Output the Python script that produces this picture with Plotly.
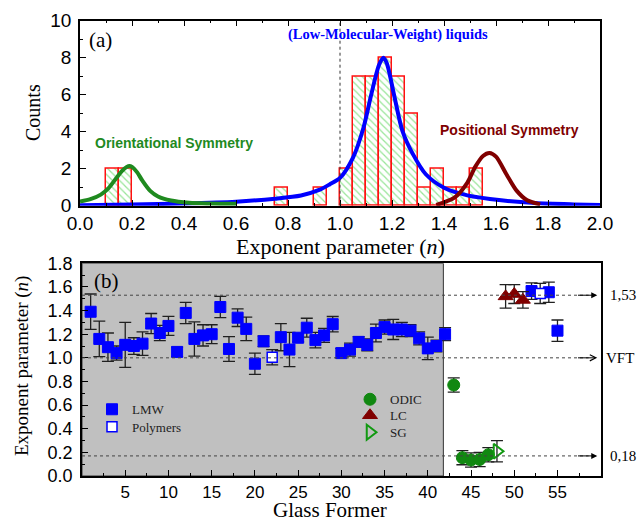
import plotly.graph_objects as go

# ---------------- Panel (a): histogram of exponent n ----------------
bin_left = [0.10, 0.15, 0.75, 0.90, 1.00, 1.05, 1.10, 1.15, 1.20, 1.25, 1.30, 1.35, 1.40, 1.45, 1.50]
counts = [2, 2, 1, 1, 2, 7, 7, 8, 7, 5, 1, 2, 1, 1, 2]
bin_width = 0.05

# fitted curves
orient_x = [0.00, 0.04, 0.08, 0.11, 0.14, 0.16, 0.18, 0.19, 0.20, 0.22, 0.24, 0.27, 0.30, 0.35, 0.42, 0.50, 0.60]
orient_y = [0.22, 0.35, 0.60, 0.95, 1.50, 1.85, 2.10, 2.15, 2.10, 1.80, 1.35, 0.80, 0.50, 0.28, 0.16, 0.12, 0.10]

lmw_fit_x = [0.0, 0.2, 0.4, 0.6, 0.75, 0.85, 0.92, 0.96, 1.0, 1.05, 1.09, 1.12, 1.15, 1.167,
             1.18, 1.21, 1.24, 1.28, 1.33, 1.40, 1.49, 1.62, 1.75, 1.9, 2.0]
lmw_fit_y = [0.03, 0.06, 0.12, 0.22, 0.38, 0.55, 0.85, 1.15, 1.5, 2.6, 4.2, 6.0, 7.6, 8.0,
             7.7, 5.85, 4.05, 2.8, 1.7, 0.97, 0.56, 0.29, 0.14, 0.07, 0.04]

pos_x = [1.37, 1.44, 1.49, 1.52, 1.55, 1.575, 1.60, 1.64, 1.68, 1.72, 1.77]
pos_y = [0.04, 0.43, 1.25, 2.10, 2.69, 2.85, 2.65, 1.70, 0.80, 0.29, 0.07]

# ---------------- Panel (b): exponent per glass former ----------------
lmw_x = [1, 2, 3, 4, 5, 6, 7, 8, 9, 10, 11, 12, 13, 14, 15, 16, 17, 18, 19, 20, 21,
         23, 24, 25, 26, 27, 28, 29, 30, 31, 32, 33, 34, 35, 36, 37, 38, 39, 40, 41, 42,
         52, 54, 55]
lmw_n = [1.39, 1.16, 1.09, 1.04, 1.11, 1.10, 1.12, 1.29, 1.21, 1.27, 1.05, 1.38, 1.16, 1.19, 1.20,
         1.43, 1.075, 1.34, 1.245, 0.95, 1.14,
         1.175, 1.07, 1.17, 1.255, 1.15, 1.19, 1.285, 1.04, 1.07, 1.135, 1.11, 1.21, 1.26, 1.24,
         1.24, 1.23, 1.165, 1.08, 1.10, 1.20,
         1.565, 1.555, 1.23]
lmw_err = [0.15, 0.15, 0.12, 0.06, 0.19, 0.07, 0.10, 0.085, 0.065, 0.08, 0.04, 0.09, 0.145, 0.09, 0.08,
           0.09, 0.105, 0.075, 0.10, 0.09, 0.045,
           0.115, 0.145, 0.035, 0.08, 0.065, 0.06, 0.065, 0.04, 0.055, 0.045, 0.05, 0.075, 0.06, 0.085,
           0.06, 0.05, 0.055, 0.095, 0.05, 0.055,
           0.07, 0.085, 0.09]

poly_x = [22, 53]
poly_n = [1.005, 1.545]
poly_err = [0.065, 0.085]

odic_x = [43, 44, 45, 46, 47]
odic_n = [0.77, 0.155, 0.135, 0.14, 0.18]
odic_err = [0.06, 0.06, 0.06, 0.06, 0.06]

lc_x = [49, 50, 51]
lc_n = [1.52, 1.54, 1.49]
lc_err = [0.10, 0.08, 0.07]

sg_x = [48]
sg_n = [0.21]
sg_err = [0.09]

ref_levels = [1.53, 1.0, 0.17]
ref_labels = ["1,53", "VFT", "0,18"]
lmw_region_end = 41.8

SERIF = "Liberation Serif"
SANS = "Liberation Sans"
BLUE = "#0000ff"
GREEN = "#1f8a1f"
DARKRED = "#800000"

fig = go.Figure()

# histogram bars
fig.add_trace(go.Bar(
    x=bin_left, y=counts, width=bin_width, offset=0,
    marker=dict(color="white", line=dict(color="#ff1010", width=1.5),
                pattern=dict(shape="\\", fgcolor="#33cc33", bgcolor="white", size=5, solidity=0.25)),
    xaxis="x", yaxis="y", showlegend=False, hoverinfo="skip"))

fig.add_trace(go.Scatter(x=lmw_fit_x, y=lmw_fit_y, mode="lines",
                         line=dict(color=BLUE, width=4, shape="spline", smoothing=0.8),
                         xaxis="x", yaxis="y", showlegend=False))
fig.add_trace(go.Scatter(x=orient_x, y=orient_y, mode="lines",
                         line=dict(color=GREEN, width=4, shape="spline", smoothing=0.8),
                         xaxis="x", yaxis="y", showlegend=False))
fig.add_trace(go.Scatter(x=pos_x, y=pos_y, mode="lines",
                         line=dict(color=DARKRED, width=4, shape="spline", smoothing=0.8),
                         xaxis="x", yaxis="y", showlegend=False))

err_style = dict(type="data", visible=True, color="#202020", thickness=1.3, width=6)

def eb(vals):
    d = dict(err_style)
    d["array"] = vals
    return d

fig.add_trace(go.Scatter(x=lmw_x, y=lmw_n, mode="markers", name="LMW", error_y=eb(lmw_err),
                         marker=dict(symbol="square", size=11, color=BLUE, line=dict(color=BLUE, width=1)),
                         xaxis="x2", yaxis="y2", legend="legend"))
fig.add_trace(go.Scatter(x=poly_x, y=poly_n, mode="markers", name="Polymers", error_y=eb(poly_err),
                         marker=dict(symbol="square", size=10, color="white", line=dict(color=BLUE, width=1.5)),
                         xaxis="x2", yaxis="y2", legend="legend2"))
fig.add_trace(go.Scatter(x=odic_x, y=odic_n, mode="markers", name="ODIC", error_y=eb(odic_err),
                         marker=dict(symbol="circle", size=12, color="#118811", line=dict(color="#118811", width=1)),
                         xaxis="x2", yaxis="y2", legend="legend3"))
fig.add_trace(go.Scatter(x=lc_x, y=lc_n, mode="markers", name="LC", error_y=eb(lc_err),
                         marker=dict(symbol="triangle-up", size=13, color=DARKRED, line=dict(color=DARKRED, width=1)),
                         xaxis="x2", yaxis="y2", legend="legend4"))
fig.add_trace(go.Scatter(x=sg_x, y=sg_n, mode="markers", name="SG", error_y=eb(sg_err),
                         marker=dict(symbol="triangle-right-open", size=13, color="#119911", line=dict(color="#119911", width=2)),
                         xaxis="x2", yaxis="y2", legend="legend5"))

shapes = [
    dict(type="line", xref="x", yref="y", x0=1.0, x1=1.0, y0=0, y1=10,
         line=dict(color="#333333", width=1, dash="dot")),
    dict(type="rect", xref="x2", yref="y2", x0=0, x1=lmw_region_end, y0=0, y1=1.8,
         fillcolor="#c0c0c0", line=dict(color="#333333", width=1), layer="below"),
]
for lv in ref_levels:
    shapes.append(dict(type="line", xref="x2", yref="y2", x0=0, x1=58.6, y0=lv, y1=lv,
                       line=dict(color="#444444", width=1, dash="dot")))

def ann(**kw):
    kw.setdefault("showarrow", False)
    kw.setdefault("xanchor", "center")
    kw.setdefault("yanchor", "middle")
    return kw

annotations = [
    ann(text="(a)", x=0.027, y=8.97, xref="x", yref="y", xanchor="left",
        font=dict(family=SERIF, size=21, color="black")),
    ann(text="<b>(Low-Molecular-Weight) liquids</b>", x=1.185, y=9.24, xref="x", yref="y",
        font=dict(family=SERIF, size=14.5, color=BLUE)),
    ann(text="<b>Orientational Symmetry</b>", x=0.36, y=3.4, xref="x", yref="y",
        font=dict(family=SANS, size=14, color=GREEN)),
    ann(text="<b>Positional Symmetry</b>", x=1.652, y=4.1, xref="x", yref="y",
        font=dict(family=SANS, size=14, color=DARKRED)),
    ann(text="Counts", x=33 / 638, y=(520 - 113) / 520, xref="paper", yref="paper", textangle=-90,
        font=dict(family=SERIF, size=20, color="black")),
    ann(text="Exponent parameter (<i>n</i>)", x=340 / 638, y=(520 - 246) / 520, xref="paper", yref="paper",
        font=dict(family=SERIF, size=22, color="black")),
    ann(text="(b)", x=1.19, y=1.65, xref="x2", yref="y2", xanchor="left",
        font=dict(family=SERIF, size=21, color="black")),
    ann(text="Exponent parameter (<i>n</i>)", x=22 / 638, y=(520 - 366) / 520, xref="paper", yref="paper",
        textangle=-90, font=dict(family=SERIF, size=19, color="black")),
    ann(text="Glass Former", x=330 / 638, y=(520 - 510) / 520, xref="paper", yref="paper",
        font=dict(family=SERIF, size=21, color="black")),
]
arrow_heads = [2, 5, 2]
label_left_px = [608, 604, 608]
for lv, lab, ah, lx in zip(ref_levels, ref_labels, arrow_heads, label_left_px):
    annotations.append(dict(text="", x=59.6, y=lv, ax=57.2, ay=lv, xref="x2", yref="y2",
                            axref="x2", ayref="y2", showarrow=True, arrowhead=ah, arrowsize=1.2,
                            arrowwidth=1, arrowcolor="black"))
    annotations.append(ann(text=lab, x=lx / 638, y=lv, xref="paper", yref="y2", xanchor="left",
                           font=dict(family=SERIF, size=15, color="black")))

axis_common = dict(showline=True, linecolor="black", linewidth=1.5, ticks="inside", ticklen=6,
                   tickcolor="black", tickwidth=1.2, showgrid=False, zeroline=False, automargin=False)

def tf(size):
    return dict(family=SANS, size=size, color="black")

def leg(xpx, ypx):
    return dict(x=xpx / 638, y=(520 - ypx) / 520, xanchor="left", yanchor="middle",
                bgcolor="rgba(0,0,0,0)", borderwidth=0,
                font=dict(family=SERIF, size=13, color="#222222"))

fig.update_layout(
    width=638, height=520, margin=dict(l=0, r=0, t=0, b=0, autoexpand=False),
    paper_bgcolor="white", plot_bgcolor="white",
    bargap=0,
    xaxis=dict(domain=[80 / 638, 600 / 638], range=[0, 2], dtick=0.2, tickformat=".1f",
               mirror="ticks", anchor="y", tickfont=tf(19),
               minor=dict(dtick=0.1, ticks="inside", ticklen=3, tickcolor="black"), **axis_common),
    yaxis=dict(domain=[(520 - 205.7) / 520, (520 - 20.7) / 520], range=[0, 10], dtick=2,
               mirror=True, anchor="x", ticklabelstandoff=3, tickfont=tf(19),
               minor=dict(dtick=1, ticks="inside", ticklen=3, tickcolor="black"), **axis_common),
    xaxis2=dict(domain=[82 / 638, 600.7 / 638], range=[0, 60],
                tickvals=[5, 10, 15, 20, 25, 30, 35, 40, 45, 50, 55], mirror=True, anchor="y2",
                tickfont=tf(17),
                minor=dict(dtick=2.5, ticks="inside", ticklen=3, tickcolor="black"), **axis_common),
    yaxis2=dict(domain=[(520 - 476) / 520, (520 - 263.3) / 520], range=[0, 1.8], dtick=0.2,
                tickformat=".1f", mirror=True, anchor="x2", ticklabelstandoff=4, tickfont=tf(18),
                minor=dict(dtick=0.1, ticks="inside", ticklen=3, tickcolor="black"), **axis_common),
    legend=leg(92, 409.3),
    legend2=leg(92, 426.7),
    legend3=leg(350, 399.3),
    legend4=leg(350, 415.3),
    legend5=leg(350, 432.3),
    shapes=shapes, annotations=annotations,
)

fig.write_html("out.html", config={"displayModeBar": False},
               post_script="document.body.style.margin='0px';document.body.style.padding='0px';")
